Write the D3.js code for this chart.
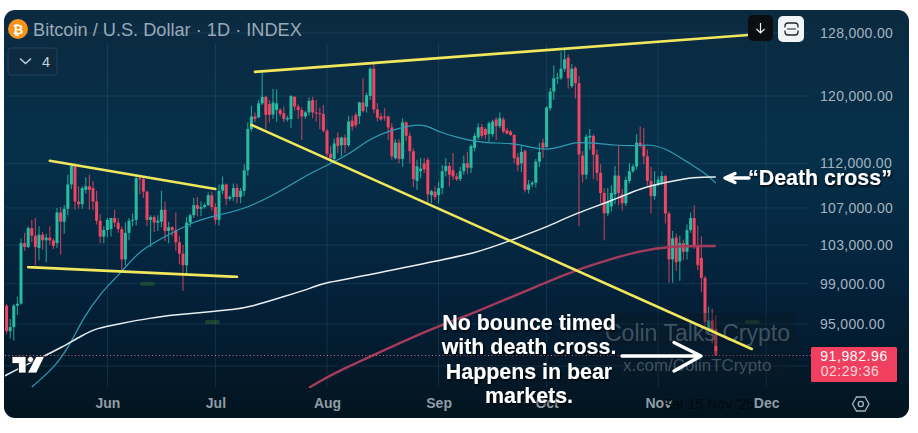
<!DOCTYPE html>
<html>
<head>
<meta charset="utf-8">
<title>Bitcoin / U.S. Dollar</title>
<script src="https://cdn.jsdelivr.net/npm/d3@7"></script>
<style>
html, body { margin: 0; padding: 0; background: #fff; overflow: hidden; }
svg { display: block; }
text { font-family: "Liberation Sans", Arial, sans-serif; }
.price-axis text { fill: #a3b4c0; font-size: 14px; letter-spacing: 0.3px; }
.time-axis text { fill: #8f9ca6; font-size: 14px; font-weight: bold; }
.note { fill: #fff; font-weight: bold; font-size: 21.4px; filter: url(#note-shadow); }
</style>
</head>
<body>
<div id="chart"></div>
<script>
// all prices in thousands of USD, one candle per day from 4 May to 17 Nov 2025
var firstDay = "2025-05-04";
var lastDay = "2025-11-17";

var openPrice = [
  96.8,94.3,94.7,96.8,97.0,103.2,102.8,104.8,104.0,102.7,104.1,103.5,103.8,103.5,103.2,106.5,105.5,106.9,109.6,111.7,107.7,107.4,109.0,109.4,109.2,107.7,105.6,103.9,
  104.6,104.7,105.9,105.4,104.7,101.5,104.3,105.6,105.7,110.3,110.2,108.8,105.7,106.0,105.4,105.5,106.8,104.5,104.9,104.6,103.3,102.1,100.9,105.4,106.2,107.3,106.9,107.1,107.3,108.4,
  107.1,105.7,108.9,109.6,108.0,108.2,109.2,108.2,108.9,111.2,116.0,117.5,117.4,119.1,119.9,119.0,117.75,118.3,118.3,117.9,117.15,117.2,119.9,118.7,118.3,117.5,118.0,119.5,118.0,117.9,117.8,
  115.8,113.1,112.5,115.0,114.1,115.0,114.1,117.0,117.7,117.55,119.2,118.7,120.0,123.4,118.35,117.5,117.5,117.5,116.2,112.6,114.4,112.5,116.8,115.2,113.4,110.0,111.1,112.0,112.4,108.4,108.8,
  108.4,109.2,111.1,111.7,111.2,110.5,110.2,111.1,112.0,111.5,113.8,115.0,116.25,116.0,115.4,115.4,117.15,116.35,117.15,115.85,115.7,115.3,112.7,112.0,113.4,109.0,109.6,109.8,112.2,114.4,
  113.9,118.5,120.55,122.2,122.2,123.4,124.8,121.2,123.5,121.6,112.9,110.7,115.0,115.2,113.0,110.9,108.65,106.4,107.15,108.5,110.6,108.5,107.5,110.0,111.1,111.65,114.4,114.0,112.8,110.0,108.3,
  109.6,109.85,110.55,106.4,101.5,103.8,101.3,103.2,102.3,104.6,105.9,103.0,101.65,99.6,94.4,95.35,94.5
];
var highPrice = [
  97.0,95.5,97.0,97.7,103.7,104.3,105.0,105.7,105.9,105.0,104.4,104.2,105.0,103.7,107.0,107.1,107.3,110.7,112.0,112.0,109.4,109.4,110.4,110.7,110.0,108.9,106.3,105.0,
  105.9,105.9,106.8,105.9,105.0,105.4,105.9,106.4,110.6,110.5,110.5,108.9,106.2,106.2,106.2,108.9,107.7,105.5,105.0,106.5,104.0,103.0,106.0,106.4,108.1,108.2,107.7,107.5,108.7,108.8,
  107.5,109.6,110.5,109.7,108.4,109.7,109.7,109.2,111.9,116.8,118.8,118.0,119.5,122.9,120.0,119.5,120.9,120.8,118.5,118.7,117.6,120.1,120.0,119.0,118.6,118.2,119.8,119.9,119.5,118.6,118.9,
  116.0,114.0,114.9,115.6,115.1,115.4,117.6,117.6,118.0,119.3,122.2,120.4,123.6,124.0,119.1,117.9,118.5,117.6,116.7,114.8,114.8,117.3,116.9,115.6,113.7,112.4,112.6,112.6,112.7,109.0,109.4,
  109.9,111.8,112.6,112.1,113.2,110.9,111.6,112.9,113.3,114.2,115.5,116.7,116.6,116.2,116.9,117.1,117.4,118.0,117.4,116.2,115.9,115.4,113.2,114.0,113.6,110.1,110.0,112.5,114.4,114.9,
  118.7,121.0,123.85,122.9,125.6,125.8,125.2,124.0,123.7,122.5,113.4,115.4,116.0,115.4,113.6,111.9,109.2,109.2,109.5,111.7,114.0,109.1,110.5,112.0,111.9,115.4,116.3,116.1,113.6,111.6,111.1,
  110.5,111.1,110.7,106.6,104.5,104.2,104.0,103.6,105.2,106.5,107.3,105.1,103.9,99.8,96.7,96.5,95.8
];
var lowPrice = [
  94.0,93.6,93.4,95.9,96.9,102.4,102.7,103.3,100.9,101.4,102.5,101.2,103.0,102.6,102.7,102.0,104.2,106.2,109.1,106.8,106.9,106.9,108.6,106.8,106.8,105.2,103.2,103.2,
  103.8,103.9,104.9,104.3,100.4,100.9,103.5,105.0,105.1,108.5,108.1,105.0,102.8,104.4,104.5,104.9,103.4,103.2,103.9,102.4,101.0,98.3,99.8,104.9,105.9,106.1,106.1,106.9,107.2,106.7,
  105.2,105.1,108.5,107.3,107.8,107.8,107.5,107.5,108.3,110.6,115.7,116.8,117.3,118.9,116.0,116.8,117.2,116.9,117.5,116.8,116.9,116.1,118.2,117.2,114.7,117.2,117.6,117.3,116.9,116.0,115.6,
  112.8,112.0,111.9,113.2,112.8,113.2,113.9,115.8,116.2,116.6,118.0,118.0,119.5,117.9,116.9,117.0,117.0,114.7,112.4,112.4,112.0,111.6,114.6,112.0,109.3,109.0,110.3,110.9,107.6,107.5,107.9,
  107.5,108.5,110.5,109.4,110.1,110.0,110.0,110.7,110.8,110.9,113.4,114.7,114.9,114.8,114.5,115.1,114.7,116.1,115.5,115.4,115.2,112.0,111.1,111.0,108.7,108.6,109.3,109.3,111.6,112.6,
  113.8,118.2,119.5,121.5,122.0,123.0,120.9,121.0,119.7,105.0,109.8,110.2,113.6,110.2,110.0,107.5,103.5,106.1,106.6,107.4,107.3,106.7,107.2,109.7,110.9,111.3,113.8,111.9,109.5,106.4,107.9,
  109.4,109.5,105.3,99.1,99.1,100.3,99.3,101.4,101.5,104.3,102.6,100.4,98.2,94.6,94.1,93.1,91.98296
];
var closePrice = [
  94.3,94.7,96.8,97.0,103.2,102.8,104.8,104.0,102.8,104.1,103.5,103.8,103.5,102.9,106.5,105.5,106.9,109.6,111.7,107.7,107.4,109.2,109.4,109.0,107.7,105.6,103.9,104.6,
  105.7,105.9,105.4,104.7,101.5,104.3,105.6,105.7,110.3,110.2,108.8,105.7,106.0,105.4,105.6,106.8,104.5,104.9,104.6,103.3,102.1,100.9,105.4,106.2,107.3,106.9,107.1,107.3,108.4,107.1,
  105.7,108.9,109.6,108.0,108.2,109.2,108.2,108.9,111.2,116.0,117.5,117.2,119.1,119.9,117.7,117.7,119.2,119.1,117.8,117.2,117.3,120.0,118.7,118.3,117.5,118.0,119.4,118.0,117.9,117.8,115.8,
  113.1,112.6,114.3,114.0,115.0,114.1,116.9,116.3,116.45,119.2,118.15,120.1,123.4,118.35,117.35,117.15,117.4,116.2,112.8,114.4,112.5,116.8,115.2,113.4,110.2,111.65,111.4,111.3,108.5,108.85,108.2,
  109.2,111.1,111.7,110.7,110.5,110.2,111.1,112.0,111.5,114.0,115.2,116.2,115.2,115.3,116.7,116.9,116.35,117.3,115.7,115.45,115.3,112.6,111.8,113.3,109.0,109.6,109.8,112.2,113.3,113.8,
  118.6,120.55,122.2,122.3,123.4,124.6,122.2,123.4,121.6,113.0,110.7,115.1,115.2,113.0,110.9,108.65,106.4,107.7,108.65,110.6,108.65,107.5,110.1,111.1,111.65,114.4,114.0,112.8,110.0,108.3,109.6,
  110.15,110.55,106.4,101.5,103.7,101.2,103.2,102.3,104.6,105.9,103.0,100.9,99.6,95.2,95.35,94.5,91.98296
];

// moving averages, read at a few dates
var fastDates = ["2025-05-11","2025-05-18","2025-05-22","2025-05-25","2025-05-30","2025-06-05","2025-06-10","2025-06-18","2025-06-26","2025-07-02","2025-07-10","2025-07-18","2025-07-25","2025-07-28","2025-08-03","2025-08-08","2025-08-13","2025-08-19","2025-08-24","2025-08-28","2025-09-01","2025-09-07","2025-09-12","2025-09-15","2025-09-22","2025-09-27","2025-10-01","2025-10-05","2025-10-09","2025-10-14","2025-10-20","2025-10-25","2025-10-30","2025-11-04","2025-11-09","2025-11-14","2025-11-17"];
var fastValues = [89.06,91.1,93.26,95.4,98.06,100.2,102.5,104.1,105.7,106.2,107.0,108.6,110.3,111.0,112.15,113.3,114.9,115.9,116.4,116.6,115.65,114.9,114.5,114.35,114.35,113.8,113.55,113.9,114.5,114.35,114.1,114.0,114.25,113.55,112.15,110.9,109.75];

var whiteDates = ["2025-05-03","2025-05-07","2025-05-15","2025-05-19","2025-05-25","2025-05-29","2025-06-04","2025-06-13","2025-06-20","2025-06-29","2025-07-06","2025-07-11","2025-07-20","2025-07-28","2025-07-31","2025-08-13","2025-08-28","2025-09-12","2025-09-21","2025-10-01","2025-10-09","2025-10-20","2025-10-27","2025-11-04","2025-11-11","2025-11-17"];
var whiteValues = [90.0,90.7,92.03,92.7,93.9,94.6,95.0,95.6,95.9,96.2,96.4,96.7,97.7,98.6,99.1,99.9,101.1,102.2,103.5,104.9,106.4,107.9,109.2,109.9,110.45,110.45];

var slowDates = ["2025-07-27","2025-08-03","2025-08-14","2025-08-29","2025-09-11","2025-09-28","2025-10-09","2025-10-20","2025-10-26","2025-11-04","2025-11-17"];
var slowValues = [89.0,90.35,92.03,94.4,96.1,98.7,100.4,101.65,102.3,102.9,102.9];

// hand drawn yellow lines, two ends each
var trendDates = [["2025-07-12","2025-11-26"],["2025-07-11","2025-11-27"],["2025-05-16","2025-07-01"],["2025-05-10","2025-07-07"]];
var trendValues = [[123.0,127.74],[116.5,92.6],[112.3,109.1],[100.7,99.7]];

var priceTicks = [128,120,112,107,103,99,95];
var gridOnly = [91];
var monthTicks = ["2025-06-01","2025-07-01","2025-08-01","2025-09-01","2025-10-01","2025-11-01","2025-12-01"];
var lastPrice = 91.98296;

var noteLines = ["No bounce timed","with death cross.","Happens in bear","markets."];

var width = 918, height = 433;
var parseDay = d3.utcParse("%Y-%m-%d");

var x = d3.scaleUtc()
    .domain([parseDay("2025-06-01"), parseDay("2025-12-01")])
    .range([107.4, 766.2]);
var y = d3.scaleLog()
    .domain([lastPrice, 128])
    .range([355.5, 33]);

var candles = d3.utcDay.range(parseDay(firstDay), d3.utcDay.offset(parseDay(lastDay), 1)).map(function(day, i) {
    return {day: day, o: openPrice[i], h: highPrice[i], l: lowPrice[i], c: closePrice[i]};
});

var svg = d3.select("#chart").append("svg")
    .attr("width", width)
    .attr("height", height);

var defs = svg.append("defs");
var bg = defs.append("linearGradient")
    .attr("id", "panel-bg")
    .attr("x1", 0).attr("y1", 0).attr("x2", 0).attr("y2", 1);
bg.append("stop").attr("offset", "0%").attr("stop-color", "#0b2a40");
bg.append("stop").attr("offset", "35%").attr("stop-color", "#06304a");
bg.append("stop").attr("offset", "70%").attr("stop-color", "#04213a");
bg.append("stop").attr("offset", "100%").attr("stop-color", "#03141f");

var soft = defs.append("filter").attr("id", "soft");
soft.append("feGaussianBlur").attr("stdDeviation", 0.35);

var noteShadow = defs.append("filter").attr("id", "note-shadow")
    .attr("x", "-10%").attr("y", "-30%").attr("width", "120%").attr("height", "160%");
noteShadow.append("feDropShadow")
    .attr("dx", 1).attr("dy", 1.5).attr("stdDeviation", 1)
    .attr("flood-color", "#000").attr("flood-opacity", 0.9);

defs.append("clipPath").attr("id", "plot-clip")
    .append("rect")
    .attr("x", 5).attr("y", 11).attr("width", 805).attr("height", 377);

svg.append("rect")
    .attr("x", 4).attr("y", 10)
    .attr("width", 905).attr("height", 408)
    .attr("rx", 11)
    .attr("fill", "url(#panel-bg)");

// grid
var gridG = svg.append("g").attr("stroke", "#4d8aa0").attr("stroke-opacity", 0.2);
gridG.selectAll(".h").data(priceTicks.concat(gridOnly)).join("line")
    .attr("class", "h")
    .attr("x1", 5).attr("x2", 809)
    .attr("y1", function(d) { return y(d); })
    .attr("y2", function(d) { return y(d); });
gridG.selectAll(".v").data(monthTicks).join("line")
    .attr("class", "v")
    .attr("x1", function(d) { return x(parseDay(d)); })
    .attr("x2", function(d) { return x(parseDay(d)); })
    .attr("y1", 43).attr("y2", 387);

// faint green volume remains
var greenMarks = [["2025-06-12",99],["2025-06-30",95.2],["2025-11-27",95.2]];
svg.append("g").selectAll("rect").data(greenMarks).join("rect")
    .attr("x", function(d) { return x(parseDay(d[0])) - 7; })
    .attr("y", function(d) { return y(d[1]) - 2; })
    .attr("width", 15).attr("height", 4).attr("rx", 2)
    .attr("fill", "#3d7a2c").attr("opacity", 0.4)
    .attr("filter", "url(#soft)");

// candles
var up = "#27bda3", down = "#ee4562";
var plot = svg.append("g").attr("clip-path", "url(#plot-clip)");
var candleG = plot.append("g").attr("filter", "url(#soft)");
var bars = candleG.selectAll("g").data(candles).join("g")
    .attr("fill", function(d) { return d.c >= d.o ? up : down; })
    .attr("stroke", function(d) { return d.c >= d.o ? up : down; });
bars.append("line")
    .attr("x1", function(d) { return x(d.day); })
    .attr("x2", function(d) { return x(d.day); })
    .attr("y1", function(d) { return y(d.h); })
    .attr("y2", function(d) { return y(d.l); })
    .attr("stroke-width", 1.1)
    .attr("stroke-opacity", 0.8);
bars.append("rect")
    .attr("x", function(d) { return x(d.day) - 1.5; })
    .attr("width", 3)
    .attr("y", function(d) { return y(Math.max(d.o, d.c)); })
    .attr("height", function(d) { return Math.max(1, Math.abs(y(d.o) - y(d.c))); })
    .attr("stroke", "none");

// moving averages
var maLine = d3.line()
    .x(function(d) { return x(parseDay(d[0])); })
    .y(function(d) { return y(d[1]); })
    .curve(d3.curveBasis);
var drawMa = function(dates, values, color, w) {
    plot.append("path")
        .datum(d3.zip(dates, values))
        .attr("fill", "none")
        .attr("stroke", color)
        .attr("stroke-width", w)
        .attr("filter", "url(#soft)")
        .attr("d", maLine);
};
drawMa(slowDates, slowValues, "#a53a5c", 2.4);
drawMa(fastDates, fastValues, "#2f9cb4", 1.2);
drawMa(whiteDates, whiteValues, "#e9eef0", 1.5);

// last price dotted line
svg.append("line")
    .attr("x1", 5).attr("x2", 812)
    .attr("y1", y(lastPrice)).attr("y2", y(lastPrice))
    .attr("stroke", "#d8688a")
    .attr("stroke-width", 1)
    .attr("stroke-dasharray", "1 2.5");

// watermark
svg.append("rect").attr("x", 600).attr("y", 313).attr("width", 196).attr("height", 33)
    .attr("fill", "#0a1a24").attr("opacity", 0.4);
svg.append("rect").attr("x", 612).attr("y", 351).attr("width", 176).attr("height", 26)
    .attr("fill", "#0a1a24").attr("opacity", 0.3);
svg.append("text").attr("x", 605).attr("y", 340.5)
    .attr("font-size", 23).attr("fill", "#8fa3b0").attr("fill-opacity", 0.42)
    .text("Colin Talks Crypto");
svg.append("text").attr("x", 623).attr("y", 370.5)
    .attr("font-size", 16.9).attr("fill", "#8fa3b0").attr("fill-opacity", 0.42)
    .text("x.com/ColinTCrypto");

// yellow trend lines
svg.append("g").selectAll("line").data(d3.range(trendDates.length)).join("line")
    .attr("x1", function(i) { return x(parseDay(trendDates[i][0])); })
    .attr("x2", function(i) { return x(parseDay(trendDates[i][1])); })
    .attr("y1", function(i) { return y(trendValues[i][0]); })
    .attr("y2", function(i) { return y(trendValues[i][1]); })
    .attr("stroke", "#f0e75c")
    .attr("stroke-width", 2.6)
    .attr("stroke-linecap", "round")
    .attr("filter", "url(#soft)");

// tradingview logo
var logo = svg.append("g").attr("fill", "#fff").attr("stroke", "#10161c").attr("stroke-width", 0.8);
logo.append("path").attr("d", "M12 356.5h14v16.5h-7.5v-9.5H12z");
logo.append("circle").attr("cx", 30.5).attr("cy", 359.5).attr("r", 3);
logo.append("path").attr("d", "M36 356.5h8.5l-8 16.5h-9z");

// axes
var priceAxis = d3.axisRight(y)
    .tickValues(priceTicks)
    .tickSize(0)
    .tickPadding(0)
    .tickFormat(function(d) { return d3.format(",.2f")(d * 1000); });
svg.append("g")
    .attr("class", "price-axis")
    .attr("transform", "translate(820,0)")
    .call(priceAxis)
    .call(function(g) { g.select(".domain").remove(); });

var timeAxis = d3.axisBottom(x)
    .tickValues(monthTicks.map(parseDay))
    .tickSize(0)
    .tickPadding(0)
    .tickFormat(d3.utcFormat("%b"));
svg.append("g")
    .attr("class", "time-axis")
    .attr("transform", "translate(0,398)")
    .call(timeAxis)
    .call(function(g) { g.select(".domain").remove(); });

// crosshair date, nearly black on the panel
svg.append("text").attr("x", x(parseDay("2025-11-15"))).attr("y", 409)
    .attr("text-anchor", "middle").attr("font-size", 14).attr("fill", "#02090f")
    .text("Sat 15 Nov '25");

// last price tag
svg.append("rect").attr("x", 811).attr("y", 347).attr("width", 86).attr("height", 35).attr("rx", 1.5)
    .attr("fill", "#f03f5f");
svg.append("text").attr("x", 854).attr("y", 360.5).attr("text-anchor", "middle")
    .attr("font-size", 14).attr("letter-spacing", 0.6).attr("fill", "#fff")
    .text(d3.format(",.2f")(lastPrice * 1000));
svg.append("text").attr("x", 850).attr("y", 376).attr("text-anchor", "middle")
    .attr("font-size", 14).attr("letter-spacing", 0.5).attr("fill", "#ffd6dd")
    .text("02:29:36");

// header
svg.append("circle").attr("cx", 18).attr("cy", 29).attr("r", 10).attr("fill", "#f7931a");
svg.append("text").attr("x", 18).attr("y", 33.5).attr("text-anchor", "middle")
    .attr("font-size", 13).attr("font-weight", "bold").attr("fill", "#fff").text("₿");
svg.append("text").attr("x", 33).attr("y", 35.5)
    .attr("font-size", 18.2).attr("fill", "#9aa9b6")
    .text("Bitcoin / U.S. Dollar · 1D · INDEX");

svg.append("rect").attr("x", 8).attr("y", 48).attr("width", 49).attr("height", 27).attr("rx", 3)
    .attr("fill", "#0c2a40").attr("stroke", "#22405a");
svg.append("path").attr("d", "M20 58.5l5.5 5l5.5 -5")
    .attr("fill", "none").attr("stroke", "#c6d2da").attr("stroke-width", 1.4);
svg.append("text").attr("x", 42).attr("y", 67).attr("font-size", 14.5).attr("fill", "#c6d2da").text("4");

// top right buttons
svg.append("rect").attr("x", 748).attr("y", 15).attr("width", 25).attr("height", 26).attr("rx", 5).attr("fill", "#0b0d10");
svg.append("path").attr("d", "M760.5 23v10M756.5 29l4 4l4 -4")
    .attr("fill", "none").attr("stroke", "#eef2f4").attr("stroke-width", 1.2);
svg.append("rect").attr("x", 778).attr("y", 16).attr("width", 26).attr("height", 26).attr("rx", 5).attr("fill", "#f1f4f6");
svg.append("rect").attr("x", 785).attr("y", 23).attr("width", 13).attr("height", 12).attr("rx", 3)
    .attr("fill", "none").attr("stroke", "#20262c").attr("stroke-width", 1.3);
svg.append("path").attr("d", "M783 29h17").attr("stroke", "#f1f4f6").attr("stroke-width", 3);
svg.append("path").attr("d", "M787 29h9").attr("stroke", "#20262c").attr("stroke-width", 1);

// settings hexagon
svg.append("path").attr("d", "M852.5 404l4 -7h8.5l4 7l-4 7h-8.5z")
    .attr("fill", "none").attr("stroke", "#a3b4c0").attr("stroke-width", 1.3);
svg.append("circle").attr("cx", 860.8).attr("cy", 404).attr("r", 2.6)
    .attr("fill", "none").attr("stroke", "#a3b4c0").attr("stroke-width", 1.3);

// notes
svg.selectAll(".note-line").data(noteLines).join("text")
    .attr("class", "note note-line")
    .attr("x", 529)
    .attr("y", function(d, i) { return 330 + i * 24.4; })
    .attr("text-anchor", "middle")
    .text(function(d) { return d; });
svg.append("text").attr("class", "note").attr("x", 748).attr("y", 184.5).text("“Death cross”");

var arrows = svg.append("g")
    .attr("fill", "none").attr("stroke", "#fff").attr("stroke-width", 3.4)
    .attr("stroke-linecap", "round").attr("stroke-linejoin", "round");
arrows.append("path").attr("d", "M749 178H725M735 173.5L725 178L735 182.5");
arrows.append("path").attr("d", "M622 356H700M674 342.5L701 356L674 371");
</script>
</body>
</html>
